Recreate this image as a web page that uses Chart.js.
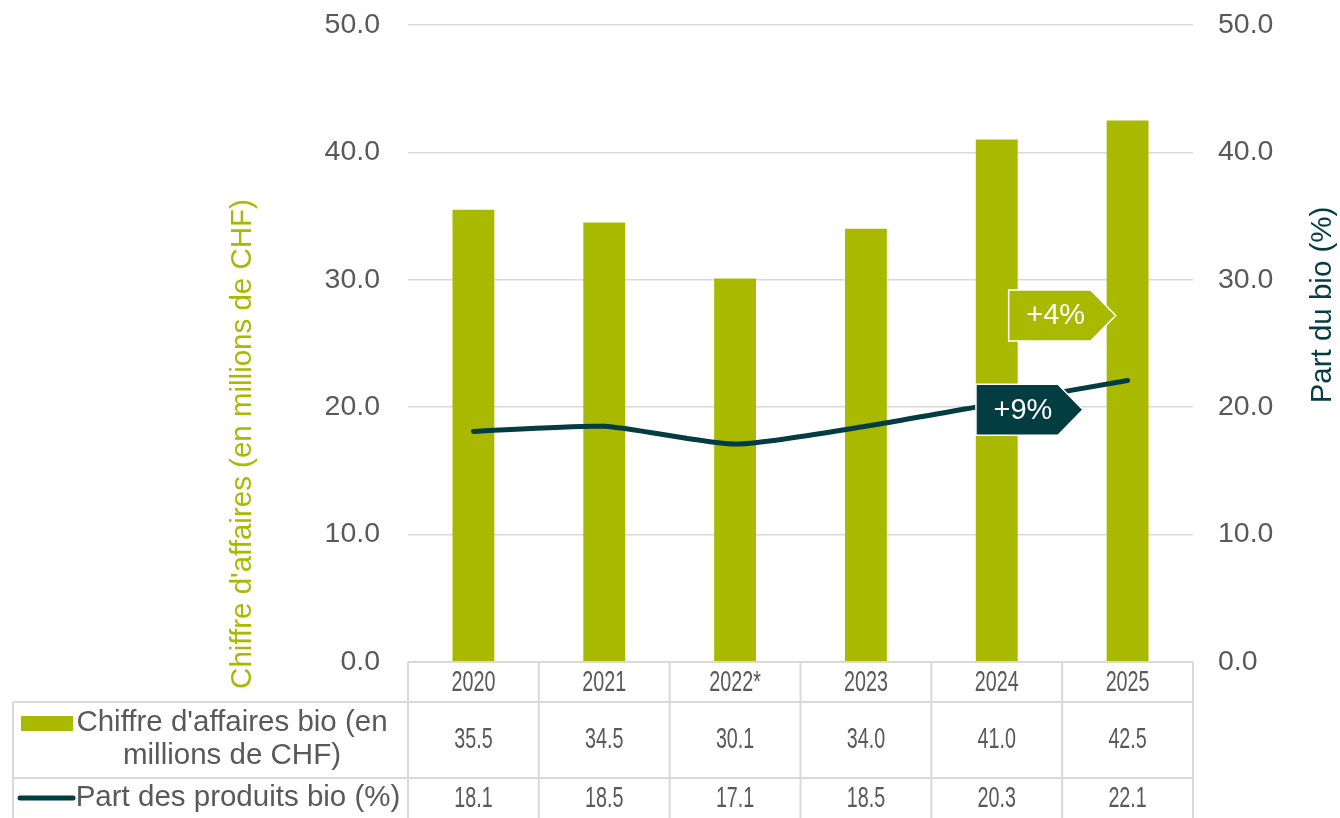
<!DOCTYPE html>
<html>
<head>
<meta charset="utf-8">
<script src="https://cdn.jsdelivr.net/npm/chart.js@4.4.1/dist/chart.umd.min.js"></script>
<style>
  html, body { margin: 0; padding: 0; background: #fff; }
  #wrap { width: 1340px; height: 818px; position: relative; }
</style>
</head>
<body>
<div id="wrap"><canvas id="bioChart"></canvas></div>
<script>
// Data
const years = ['2020', '2021', '2022*', '2023', '2024', '2025'];
const turnover = [35.5, 34.5, 30.1, 34.0, 41.0, 42.5];   // Chiffre d'affaires bio (mio CHF)
const bioShare = [18.1, 18.5, 17.1, 18.5, 20.3, 22.1];   // Part des produits bio (%)
const rowLabels = [["Chiffre d'affaires bio (en", 'millions de CHF)'], ['Part des produits bio (%)']];
const callouts = [
  { text: '+4%', between: [4, 5], value: 27.2, fill: '#A9B900' },
  { text: '+9%', between: [4, 4.5], value: 19.8, fill: '#033C41' }
];

const colors = {
  olive: '#A9B900',
  teal: '#033C41',
  text: '#595959',
  grid: '#D9D9D9'
};
const FONT = "'Liberation Sans', Arial, sans-serif";

// Helper: draw condensed text (table values are narrow)
function narrowText(ctx, txt, cx, cy, sx) {
  ctx.save();
  ctx.translate(cx, cy);
  ctx.scale(sx, 1);
  ctx.fillText(txt, 0, 0);
  ctx.restore();
}

// Data table under the plot + axis titles
const dataTable = {
  id: 'dataTable',
  afterDraw(chart) {
    const { ctx, chartArea: { left, right, bottom }, scales: { x } } = chart;
    const r1 = bottom + 40, r2 = bottom + 116, r3 = chart.height;
    const tblLeft = 13;
    ctx.save();
    ctx.strokeStyle = colors.grid;
    ctx.lineWidth = 2;
    ctx.beginPath();
    // horizontal lines
    ctx.moveTo(left, bottom); ctx.lineTo(right, bottom);
    ctx.moveTo(tblLeft, r1); ctx.lineTo(right, r1);
    ctx.moveTo(tblLeft, r2); ctx.lineTo(right, r2);
    // vertical lines
    ctx.moveTo(tblLeft, r1); ctx.lineTo(tblLeft, r3);
    const step = (right - left) / years.length;
    for (let i = 0; i <= years.length; i++) {
      const xx = left + step * i;
      ctx.moveTo(xx, bottom); ctx.lineTo(xx, r3);
    }
    ctx.stroke();

    // year labels + values
    ctx.fillStyle = colors.text;
    ctx.textAlign = 'center';
    ctx.textBaseline = 'middle';
    ctx.font = `29px ${FONT}`;
    years.forEach((yr, i) => {
      const cx = x.getPixelForValue(i);
      narrowText(ctx, yr, cx, bottom + 21, 0.68);
      narrowText(ctx, turnover[i].toFixed(1), cx, bottom + 78, 0.68);
      narrowText(ctx, bioShare[i].toFixed(1), cx, bottom + 137, 0.68);
    });

    // row legends
    ctx.fillStyle = colors.olive;
    ctx.fillRect(21, r1 + 14, 52, 15);
    ctx.strokeStyle = colors.teal;
    ctx.lineWidth = 5;
    ctx.lineCap = 'round';
    ctx.beginPath();
    ctx.moveTo(20, bottom + 136); ctx.lineTo(73, bottom + 136);
    ctx.stroke();

    ctx.font = `29.5px ${FONT}`;
    ctx.fillStyle = colors.text;
    ctx.textAlign = 'center';
    ctx.fillText(rowLabels[0][0], 232, bottom + 61);
    ctx.fillText(rowLabels[0][1], 232, bottom + 94);
    ctx.fillText(rowLabels[1][0], 238, bottom + 136);

    // axis titles
    ctx.save();
    ctx.translate(243, bottom - 218);
    ctx.rotate(-Math.PI / 2);
    ctx.fillStyle = colors.olive;
    ctx.fillText("Chiffre d'affaires (en millions de CHF)", 0, 0);
    ctx.restore();
    ctx.save();
    ctx.translate(1323, bottom - 357);
    ctx.rotate(-Math.PI / 2);
    ctx.fillStyle = colors.teal;
    ctx.fillText('Part du bio (%)', 0, 0);
    ctx.restore();
    ctx.restore();
  }
};

// Arrow-shaped growth labels
const growthTags = {
  id: 'growthTags',
  afterDatasetsDraw(chart) {
    const { ctx, scales: { x, y } } = chart;
    ctx.save();
    callouts.forEach(c => {
      const cx = (x.getPixelForValue(c.between[0]) + x.getPixelForValue(c.between[1])) / 2;
      const cy = y.getPixelForValue(c.value);
      const w = 107, h = 51, tip = 25;
      const l = cx - w / 2, t = cy - h / 2;
      ctx.beginPath();
      ctx.moveTo(l, t);
      ctx.lineTo(l + w - tip, t);
      ctx.lineTo(l + w, cy);
      ctx.lineTo(l + w - tip, t + h);
      ctx.lineTo(l, t + h);
      ctx.closePath();
      ctx.fillStyle = c.fill;
      ctx.fill();
      ctx.strokeStyle = '#ffffff';
      ctx.lineWidth = 1.5;
      ctx.stroke();
      ctx.fillStyle = '#ffffff';
      ctx.font = `29px ${FONT}`;
      ctx.textAlign = 'center';
      ctx.textBaseline = 'middle';
      ctx.fillText(c.text, l + (w - tip) / 2 + 6, cy + 1);
    });
    ctx.restore();
  }
};

const tickFmt = v => Number(v).toFixed(1);
const clear = 'rgba(0,0,0,0)';

new Chart(document.getElementById('bioChart'), {
  data: {
    labels: years,
    datasets: [
      {
        type: 'line',
        label: 'Part des produits bio (%)',
        data: bioShare,
        yAxisID: 'y1',
        borderColor: colors.teal,
        borderWidth: 5,
        borderCapStyle: 'round',
        pointRadius: 0,
        tension: 0.2,
        order: 0
      },
      {
        type: 'bar',
        label: "Chiffre d'affaires bio (en millions de CHF)",
        data: turnover,
        yAxisID: 'y',
        backgroundColor: colors.olive,
        barPercentage: 0.32,
        categoryPercentage: 1,
        order: 1
      }
    ]
  },
  options: {
    responsive: true,
    maintainAspectRatio: false,
    animation: false,
    layout: { padding: { top: 0, bottom: 156, left: 0, right: 0 } },
    scales: {
      x: { display: false },
      y: {
        position: 'left',
        min: 0, max: 50,
        ticks: { stepSize: 10, callback: tickFmt, color: colors.text, padding: 0, font: { size: 28.5, family: FONT, lineHeight: 1.75 } },
        grid: { color: colors.grid, lineWidth: 1.5, drawTicks: true, tickLength: 28, tickColor: clear },
        border: { display: false },
        afterFit: s => { s.width = 408; }
      },
      y1: {
        position: 'right',
        min: 0, max: 50,
        ticks: { stepSize: 10, callback: tickFmt, color: colors.text, padding: 0, font: { size: 28.5, family: FONT, lineHeight: 1.75 } },
        grid: { color: clear, drawOnChartArea: false, drawTicks: true, tickLength: 25, tickColor: clear },
        border: { display: false },
        afterFit: s => { s.width = 147; }
      }
    },
    plugins: {
      legend: { display: false },
      tooltip: { enabled: false }
    }
  },
  plugins: [growthTags, dataTable]
});
</script>
</body>
</html>
